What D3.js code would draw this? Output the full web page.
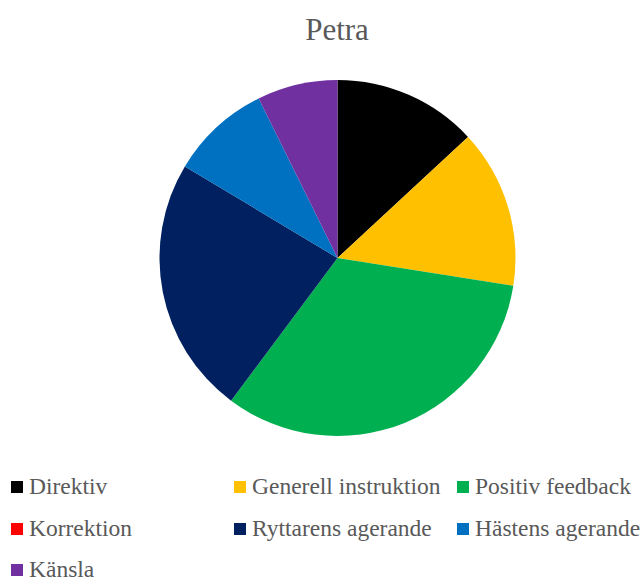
<!DOCTYPE html>
<html>
<head>
<meta charset="utf-8">
<script src="https://cdn.jsdelivr.net/npm/d3@7"></script>
<style>
  body { margin: 0; background: #fff; }
  text { font-family: "Liberation Serif", "Times New Roman", serif; fill: #595959; }
</style>
</head>
<body>
<script>
const width = 644;
const height = 581;

// chart data (shares)
const categories = ['Direktiv', 'Generell instruktion', 'Positiv feedback', 'Korrektion',
                    'Ryttarens agerande', 'Hästens agerande', 'Känsla'];
const values = [13.1, 14.4, 32.7, 0, 23.4, 9.1, 7.3];
const colors = ['#000000', '#FFC000', '#00B050', '#FF0000', '#002060', '#0070C0', '#7030A0'];

const data = categories.map((c, i) => ({name: c, value: values[i]}));

var svg = d3.select('body').append('svg')
    .attr('width', width)
    .attr('height', height);

svg.append('text')
    .text('Petra')
    .attr('x', 337)
    .attr('y', 40)
    .attr('text-anchor', 'middle')
    .style('font-size', '31px');

const color = d3.scaleOrdinal().domain(categories).range(colors);

const pie = d3.pie().value(d => d.value).sort(null);
const arc = d3.arc().innerRadius(0).outerRadius(178);

const g = svg.append('g')
    .attr('transform', 'translate(337.5, 258)');

g.selectAll('path')
    .data(pie(data))
    .enter()
    .append('path')
    .attr('d', arc)
    .attr('fill', d => color(d.data.name));

// legend, 3 columns
const colX = [11, 234, 457];
const rowY = [487, 529, 570];

const legend = svg.selectAll('.legend')
    .data(categories)
    .enter()
    .append('g')
    .attr('class', 'legend')
    .attr('transform', (d, i) => `translate(${colX[i % 3]}, ${rowY[Math.floor(i / 3)]})`);

legend.append('rect')
    .attr('x', 0)
    .attr('y', -6)
    .attr('width', 12)
    .attr('height', 12)
    .attr('fill', d => color(d));

legend.append('text')
    .text(d => d)
    .attr('x', 18)
    .attr('y', 7)
    .style('font-size', '23.5px');
</script>
</body>
</html>
